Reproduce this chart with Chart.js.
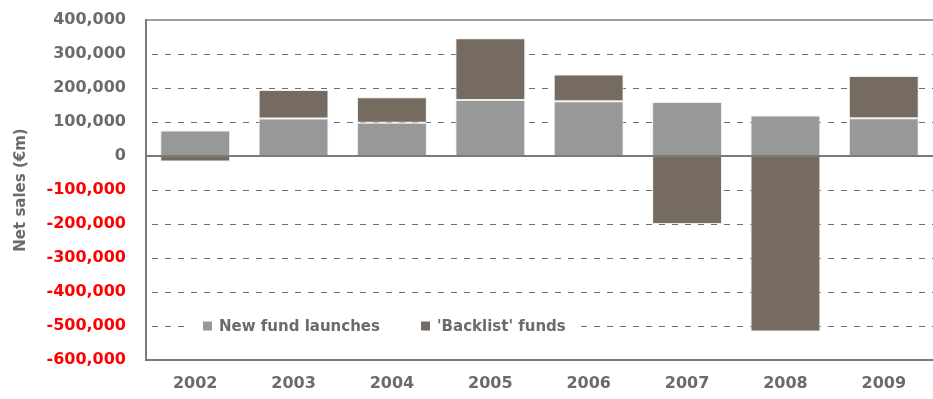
<!DOCTYPE html>
<html>
<head>
<meta charset="utf-8">
<script src="https://cdn.jsdelivr.net/npm/chart.js@4/dist/chart.umd.min.js"></script>
<style>
  html, body { margin: 0; padding: 0; background: #ffffff; }
  #wrap { width: 933px; height: 399px; position: relative; }
</style>
</head>
<body>
<div id="wrap"><canvas id="c"></canvas></div>
<script>
// Net sales by year, split into new launches and the existing backlist
const years = ['2002', '2003', '2004', '2005', '2006', '2007', '2008', '2009'];
const newFundLaunches = [75000, 110000, 98000, 165000, 161000, 159000, 119000, 111000];
const backlistFunds = [-16000, 84000, 75000, 181000, 79000, -200000, -516000, 124000];
const seriesNames = ['New fund launches', "'Backlist' funds"];
const yTicks = [400000, 300000, 200000, 100000, 0, -100000, -200000, -300000, -400000, -500000, -600000];

const FONT = 'DejaVu Sans';
const GREY_TEXT = '#6b6b6b';
const NEW_COLOR = '#989898';
const BACK_COLOR = '#766b60';

// Gridlines, frame and the in-plot legend
const framePlugin = {
  id: 'frame',
  beforeDatasetsDraw(chart) {
    const { ctx, chartArea: a, scales: { y } } = chart;
    ctx.save();
    ctx.strokeStyle = '#6e6e6e';
    ctx.lineWidth = 1;
    ctx.setLineDash([6, 7]);
    yTicks.forEach(v => {
      if (v === 0 || v === 400000 || v === -600000) return;
      const py = Math.round(y.getPixelForValue(v)) + 0.5;
      ctx.beginPath();
      ctx.moveTo(a.left + 6, py);
      ctx.lineTo(a.right, py);
      ctx.stroke();
    });
    ctx.setLineDash([]);
    // top edge
    ctx.strokeStyle = '#a0a0a0';
    ctx.lineWidth = 2;
    ctx.beginPath();
    ctx.moveTo(a.left, y.getPixelForValue(400000));
    ctx.lineTo(a.right, y.getPixelForValue(400000));
    ctx.stroke();
    // bottom edge
    ctx.strokeStyle = '#7a7a7a';
    ctx.beginPath();
    ctx.moveTo(a.left, y.getPixelForValue(-600000));
    ctx.lineTo(a.right, y.getPixelForValue(-600000));
    ctx.stroke();
    // left axis
    ctx.beginPath();
    ctx.moveTo(a.left, a.top - 1);
    ctx.lineTo(a.left, a.bottom + 1);
    ctx.stroke();

    // legend box
    const ly = y.getPixelForValue(-500000);
    ctx.fillStyle = '#ffffff';
    ctx.fillRect(a.left + 44, ly - 12, 388, 24);
    const items = [
      { x: a.left + 57, color: NEW_COLOR, text: seriesNames[0] },
      { x: a.left + 275, color: BACK_COLOR, text: seriesNames[1] }
    ];
    ctx.font = 'bold 15px "' + FONT + '"';
    ctx.textBaseline = 'middle';
    ctx.textAlign = 'left';
    items.forEach(it => {
      ctx.fillStyle = it.color;
      ctx.fillRect(it.x, ly - 4.5, 9, 9);
      ctx.fillStyle = GREY_TEXT;
      ctx.fillText(it.text, it.x + 16, ly + 1);
    });
    ctx.restore();
  },
  afterDatasetsDraw(chart) {
    const { ctx, chartArea: a, scales: { y } } = chart;
    ctx.save();
    ctx.strokeStyle = '#7a7a7a';
    ctx.lineWidth = 2;
    const z = y.getPixelForValue(0);
    ctx.beginPath();
    ctx.moveTo(a.left, z);
    ctx.lineTo(a.right, z);
    ctx.stroke();
    ctx.restore();
  }
};

new Chart(document.getElementById('c'), {
  type: 'bar',
  data: {
    labels: years,
    datasets: [
      {
        label: seriesNames[0],
        data: newFundLaunches,
        backgroundColor: NEW_COLOR,
        borderColor: '#ececec',
        borderWidth: 1,
        borderSkipped: false
      },
      {
        label: seriesNames[1],
        data: backlistFunds,
        backgroundColor: BACK_COLOR,
        borderColor: '#ececec',
        borderWidth: 1,
        borderSkipped: false
      }
    ]
  },
  options: {
    responsive: true,
    maintainAspectRatio: false,
    animation: false,
    layout: { padding: { top: 20, right: 0, left: 0, bottom: 0 } },
    datasets: { bar: { barPercentage: 0.71, categoryPercentage: 1 } },
    plugins: {
      legend: { display: false },
      tooltip: { enabled: false }
    },
    scales: {
      x: {
        stacked: true,
        grid: { display: false, drawTicks: false },
        border: { display: false },
        ticks: {
          color: GREY_TEXT,
          padding: 14,
          font: { family: FONT, size: 16, weight: 'bold' }
        },
        afterFit(s) { s.height = 39; }
      },
      y: {
        stacked: true,
        min: -600000,
        max: 400000,
        afterBuildTicks(s) { s.ticks = yTicks.map(v => ({ value: v })); },
        grid: { display: false, drawTicks: false },
        border: { display: false },
        ticks: {
          padding: 20,
          color: ctx => ctx.tick.value < 0 ? '#ff0000' : GREY_TEXT,
          font: { family: FONT, size: 16, weight: 'bold' },
          callback: v => v.toLocaleString('en-US')
        },
        title: {
          display: true,
          text: 'Net sales (€m)',
          color: GREY_TEXT,
          padding: { top: 12, bottom: 0 },
          font: { family: FONT, size: 15, weight: 'bold' }
        },
        afterFit(s) {
          s.width = 146;
          s.paddingTop = 0;
          s.paddingBottom = 0;
        }
      }
    }
  },
  plugins: [framePlugin]
});
</script>
</body>
</html>
